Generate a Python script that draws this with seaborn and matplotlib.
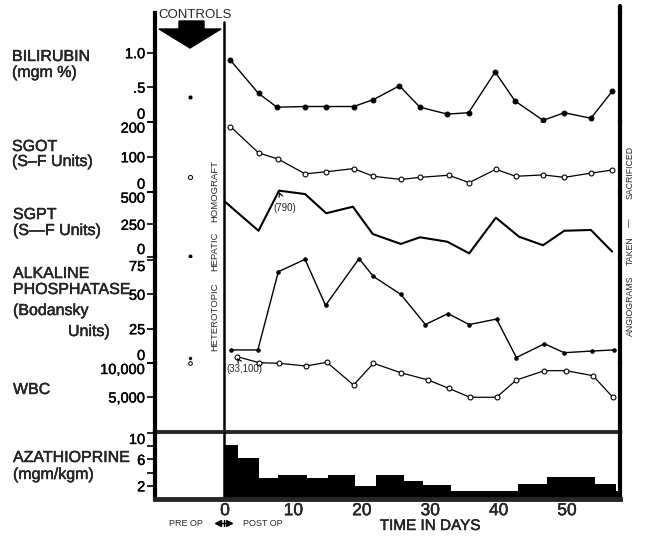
import numpy as np
import matplotlib
matplotlib.use("Agg")
import matplotlib.pyplot as plt
import matplotlib.patheffects as pe
from matplotlib.patches import Polygon
from matplotlib.lines import Line2D
import seaborn as sns

# ---------------- data ----------------
days_bili = [0.8, 4.9, 7.6, 11.7, 14.8, 18.8, 21.7, 25.5, 28.5, 32.5, 35.6, 39.5, 42.4, 46.5, 49.6, 53.5, 56.6]
bilirubin = [0.89, 0.41, 0.21, 0.22, 0.22, 0.22, 0.32, 0.52, 0.21, 0.11, 0.13, 0.72, 0.30, 0.02, 0.13, 0.05, 0.44]

days_sgot = [0.8, 4.9, 7.8, 11.7, 14.8, 18.8, 21.7, 25.7, 28.5, 32.7, 35.7, 39.6, 42.5, 46.5, 49.6, 53.5, 56.6]
sgot = [186, 111, 93, 51, 57, 66, 44, 35, 41, 47, 26, 64, 44, 48, 41, 53, 62]

days_sgpt = [0.0, 4.9, 7.9, 11.7, 14.8, 18.7, 21.6, 25.7, 28.5, 32.5, 35.7, 39.6, 43.0, 46.5, 49.6, 53.5, 56.6]
sgpt = [423, 201, 508, 482, 335, 385, 176, 100, 151, 117, 28, 301, 155, 90, 201, 207, 41]  # peak drawn off-scale (790)

days_alk = [0.9, 4.8, 7.8, 11.7, 14.7, 19.6, 21.7, 25.7, 29.3, 32.6, 35.7, 39.7, 42.6, 46.7, 49.6, 53.6, 56.8]
alk_phos = [9.5, 9.5, 66.5, 75.5, 42, 76, 63, 50, 28, 36, 28, 32, 4, 14, 7.5, 8.7, 9.5]

days_wbc = [1.8, 5.0, 7.9, 11.8, 14.9, 18.8, 21.7, 25.7, 29.7, 32.7, 35.8, 39.7, 42.6, 46.7, 49.9, 53.8, 56.7]
wbc = [10930, 10040, 9960, 9560, 10100, 6760, 9960, 8570, 7500, 6280, 4960, 4960, 7500, 8870, 8870, 8130, 4960]  # first is off-scale (33,100)

aza_edges = [0, 1.9, 5.0, 7.8, 12.0, 15.0, 19.0, 22.1, 26.2, 29.0, 33.0, 42.9, 47.1, 54.1, 57.1, 58.5]
azathioprine = [8.2, 6.2, 3.2, 3.6, 3.2, 3.7, 2.0, 3.7, 2.7, 2.1, 1.2, 2.3, 3.3, 2.3, 1.2]

control_day = -5.1
controls = {"bili": 0.36, "sgot": 41, "sgpt": 8, "alk": 3.4, "wbc": 9950}

# ---------------- figure ----------------
sns.set_style("white")
plt.rcParams['font.family'] = ['Liberation Sans', 'DejaVu Sans']

W, H = 646, 538
fig = plt.figure(figsize=(W / 100, H / 100), dpi=100)
heavy = [pe.withStroke(linewidth=0.3, foreground="k")]


def fx(x):
    return x / W


def fy(y):
    return 1 - y / H


left, right = 155, 620
bounds = [13, 121.7, 191.7, 257, 363, 432, 499]
xlim = (-(225 - left) / 6.84, (right - 225) / 6.84)

axes = []
for i in range(6):
    top, bot = bounds[i], bounds[i + 1]
    ax = fig.add_axes([fx(left), fy(bot), fx(right) - fx(left), (bot - top) / H])
    ax.set_facecolor("none")
    axes.append(ax)
ax_bili, ax_sgot, ax_sgpt, ax_alk, ax_wbc, ax_aza = axes

# lines
sns.lineplot(x=days_bili, y=bilirubin, ax=ax_bili, color="k", lw=1, marker="o",
             markersize=3.5, markerfacecolor="k", markeredgecolor="k")
sns.lineplot(x=days_sgot, y=sgot, ax=ax_sgot, color="k", lw=0.9, marker="o",
             markersize=3.5, markerfacecolor="white", markeredgecolor="k", markeredgewidth=0.8)
sns.lineplot(x=days_sgpt, y=sgpt, ax=ax_sgpt, color="k", lw=1.5, clip_on=False)
sns.lineplot(x=days_alk, y=alk_phos, ax=ax_alk, color="k", lw=1, marker="o",
             markersize=2.5, markerfacecolor="k", markeredgecolor="k")
sns.lineplot(x=days_wbc, y=wbc, ax=ax_wbc, color="k", lw=0.9, marker="o", clip_on=False,
             markersize=3.5, markerfacecolor="white", markeredgecolor="k", markeredgewidth=0.8)

# azathioprine step bars
mids = [(a + b) / 2 for a, b in zip(aza_edges[:-1], aza_edges[1:])]
sns.histplot(x=mids, weights=azathioprine, bins=aza_edges, ax=ax_aza, color="k",
             alpha=1, edgecolor="k", linewidth=0)

# controls
sns.scatterplot(x=[control_day], y=[controls["bili"]], ax=ax_bili, color="k", s=9, linewidth=0)
sns.scatterplot(x=[control_day], y=[controls["sgot"]], ax=ax_sgot, s=9, facecolor="white",
                edgecolor="k", linewidth=0.7)
sns.scatterplot(x=[control_day], y=[controls["sgpt"]], ax=ax_sgpt, color="k", s=8, linewidth=0)
sns.scatterplot(x=[control_day], y=[controls["alk"]], ax=ax_alk, color="k", s=6, linewidth=0,
                clip_on=False)
sns.scatterplot(x=[control_day], y=[controls["wbc"]], ax=ax_wbc, s=7, facecolor="white",
                edgecolor="k", linewidth=0.7, clip_on=False)

# axes styling
ylims = [(0, 1.575), (0, 200), (0, 500), (0, 77.2), (-147, 10000), (0, 10.15)]
yticks = [[0, 0.5, 1.0], [0, 100, 200], [0, 250, 500], [0, 25, 50, 75],
          [5000, 10000], [2, 4, 6, 8, 10]]
ylabels = [["0", ".5", "1.0"], ["0", "100", "200"], ["0", "250", "500"],
           ["0", "25", "50", "75"], ["5,000", "10,000"], ["2", "", "6", "", "10"]]

for i, ax in enumerate(axes):
    ax.set_xlim(xlim)
    ax.set_ylim(ylims[i])
    ax.set_yticks(yticks[i])
    ax.set_yticklabels(ylabels[i])
    ax.set_ylabel("")
    ax.set_xlabel("")
    ax.tick_params(axis="y", left=True, direction="out", length=6, width=1.2,
                   pad=1, labelsize=10.5, colors="k")
    for s in ["top", "bottom"]:
        ax.spines[s].set_visible(False)
    for s in ["left", "right"]:
        ax.spines[s].set_linewidth(3)
        ax.spines[s].set_color("k")
    for lab in ax.get_yticklabels():
        lab.set_path_effects(heavy)
        t = lab.get_text()
        if t == "0":
            lab.set_va("bottom")
        elif t in ("200", "500", "10,000", "10", "75"):
            lab.set_va("top")
    if i < 5:
        ax.set_xticks([])
    # heterotopic homograft line
    ymax = (121.7 - 22) / (121.7 - 13) if i == 0 else 1
    ax.axvline(-0.2, ymin=0, ymax=ymax, color="k", lw=1.8)

ax_wbc.spines["bottom"].set_visible(True)
ax_wbc.spines["bottom"].set_linewidth(2.8)
ax_aza.spines["bottom"].set_visible(True)
ax_aza.spines["bottom"].set_linewidth(3.5)

ax_aza.set_xticks([0, 10, 20, 30, 40, 50])
ax_aza.set_xticklabels(["0", "10", "20", "30", "40", "50"])
ax_aza.tick_params(axis="x", bottom=True, length=0, pad=3, labelsize=12.5)
ax_aza.set_xticks([0], minor=True)
ax_aza.tick_params(axis="x", which="minor", bottom=True, length=6, width=1.5)
for lab in ax_aza.get_xticklabels():
    lab.set_path_effects(heavy)

# right border extends slightly higher than left
fig.add_artist(Line2D([fx(right), fx(right)], [fy(6), fy(14)], color="k", lw=3))

# annotations for off-scale values
ax_sgpt.annotate("(790)", xy=(7.9, 498), xytext=(8.8, 375), ha="center", va="center",
                 fontsize=7, arrowprops=dict(arrowstyle="->", lw=0.8, color="k",
                                             shrinkA=4, shrinkB=0))
ax_wbc.annotate("(33,100)", xy=(1.75, 10740), xytext=(2.85, 9120), ha="center", va="center",
                fontsize=7, annotation_clip=False,
                arrowprops=dict(arrowstyle="->", lw=0.8, color="k", shrinkA=4, shrinkB=0))

# left labels
left_labels = [
    ("BILIRUBIN", 12, 61), ("(mgm %)", 12, 77),
    ("SGOT", 12, 151), ("(S\u2013F Units)", 12, 166),
    ("SGPT", 13, 219), ("(S\u2014F Units)", 13, 235),
    ("ALKALINE", 13, 278), ("PHOSPHATASE", 13, 294), ("(Bodansky", 13, 315), ("Units)", 68, 336),
    ("WBC", 13, 394),
    ("AZATHIOPRINE", 13, 462), ("(mgm/kgm)", 13, 479),
]
for txt, x, y in left_labels:
    fig.text(fx(x), fy(y), txt, ha="left", va="baseline", fontsize=11.5, path_effects=heavy)

# controls header and arrow
fig.text(fx(195), fy(18), "CONTROLS", ha="center", va="baseline", fontsize=9.5)
arrow_px = [(179, 21), (204, 21), (204, 29), (221, 29), (190, 48), (159, 29), (179, 29)]
fig.add_artist(Polygon([(fx(x), fy(y)) for x, y in arrow_px], closed=True,
                       transform=fig.transFigure, color="k"))

# vertical captions
for txt, yc in [("HETEROTOPIC", 316.5), ("HEPATIC", 251), ("HOMOGRAFT", 191)]:
    fig.text(fx(215), fy(yc), txt, rotation=90, ha="center", va="center", fontsize=6.8)
for txt, yc in [("SACRIFICED", 172), ("\u2014", 223), ("TAKEN", 251), ("ANGIOGRAMS", 306)]:
    fig.text(fx(630), fy(yc), txt, rotation=90, ha="center", va="center", fontsize=6.3)

# bottom captions
fig.text(fx(430), fy(526), "TIME IN DAYS", ha="center", va="center", fontsize=11,
         path_effects=heavy)
fig.text(fx(186), fy(523), "PRE OP", ha="center", va="center", fontsize=6.5)
fig.text(fx(263), fy(523), "POST OP", ha="center", va="center", fontsize=6.5)
# pre/post op double arrow with centre tick
fig.add_artist(Line2D([fx(217), fx(230)], [fy(523), fy(523)], color="k", lw=1))
fig.add_artist(Line2D([fx(218)], [fy(523)], marker="<", markersize=4, color="k", lw=0))
fig.add_artist(Line2D([fx(229)], [fy(523)], marker=">", markersize=4, color="k", lw=0))
fig.add_artist(Line2D([fx(223.5), fx(223.5)], [fy(520), fy(526)], color="k", lw=1))

fig.savefig("out.png", dpi=100)
